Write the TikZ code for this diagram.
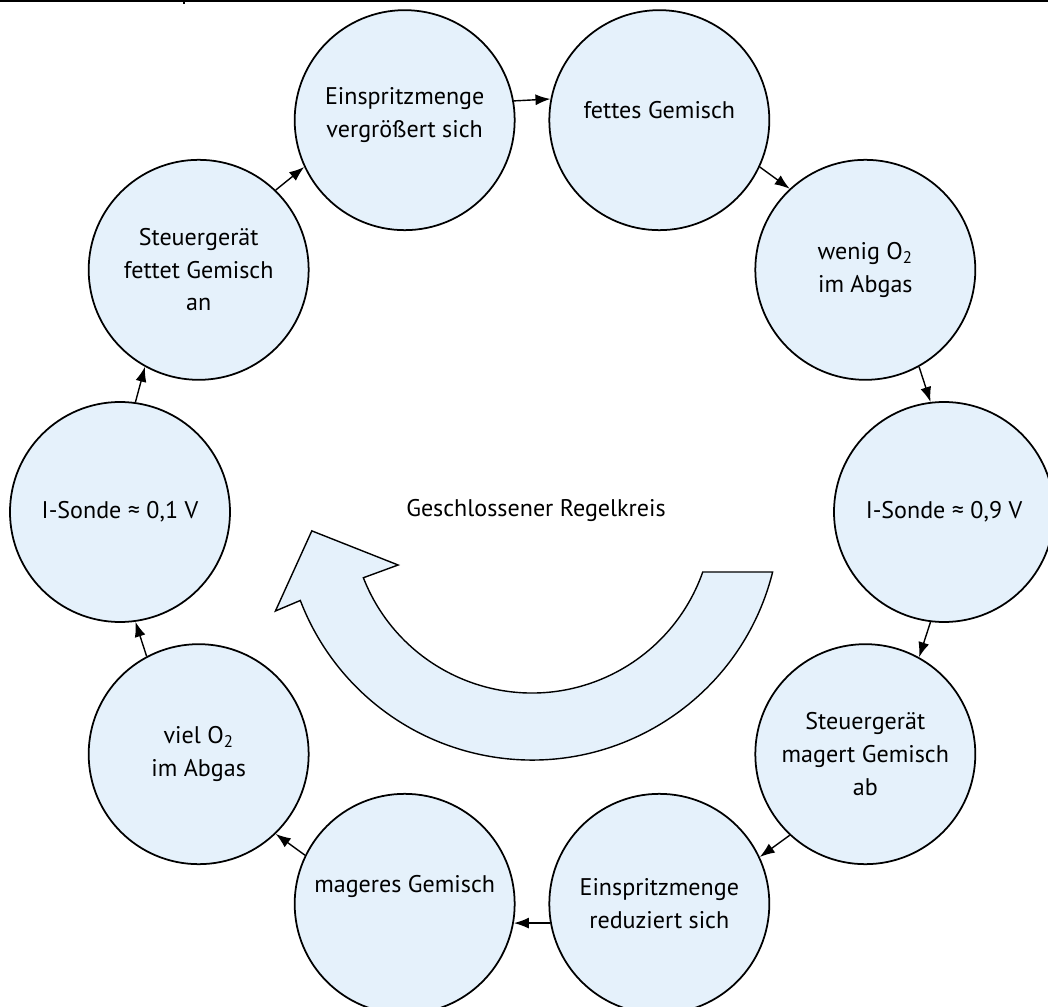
\documentclass[tikz,border=0pt]{standalone}
\usepackage{fontspec}
\setmainfont{PT Sans}
\usetikzlibrary{arrows.meta}
\definecolor{kreisblau}{RGB}{229,241,251}
\tikzset{
	kreis/.style={circle, draw=black, line width=1pt, fill=kreisblau, minimum size=4.4cm, inner sep=0pt, align=center, font=\fontsize{13.7}{18.6}\selectfont},
	pfeil/.style={line width=0.8pt, -{Latex[length=3mm,width=2.2mm]}}
}

\begin{document}
\begin{tikzpicture}
		%%%%% RAHMEN %%%%%
		\useasboundingbox (-10.64, -9.88) rectangle (10.32, 10.24);
		\draw[line width=0.75pt] (-10.64, 10.22) -- (10.32, 10.22);
		\draw[line width=0.6pt] (-6.96, 10.24) -- (-6.96, 10.16);
		
		%%%%% KREISE %%%%%
		\node[kreis] (fettet) at (144:8.24) {Steuergerät\\fettet Gemisch\\an};
		\node[kreis, text depth=0.3cm] (vergroessert) at (108:8.24) {Einspritzmenge\\vergrößert sich};
		\node[kreis, text depth=0.4cm] (fett) at (72:8.24) {fettes Gemisch};
		\node[kreis] (wenigO) at (36:8.24) {wenig O\textsubscript{2}\\im Abgas};
		\node[kreis] (sondeHoch) at (0:8.24) {I-Sonde ≈ 0,9 V};
		\node[kreis] (magert) at (-36:8.24) {Steuergerät\\magert Gemisch\\ab};
		\node[kreis] (reduziert) at (-72:8.24) {Einspritzmenge\\reduziert sich};
		\node[kreis, text depth=0.8cm] (mager) at (-108:8.24) {mageres Gemisch};
		\node[kreis] (vielO) at (-144:8.24) {viel O\textsubscript{2}\\im Abgas};
		\node[kreis] (sondeTief) at (180:8.24) {I-Sonde ≈ 0,1 V};
		
		%%%%% PFEILE %%%%%
		\draw[pfeil] (fettet.46.5) -- (vergroessert.205.5);
		\draw[pfeil] (vergroessert.10.5) -- (fett.169.5);
		\draw[pfeil] (fett.-25.5) -- (wenigO.133.5);
		\draw[pfeil] (wenigO.-61.5) -- (sondeHoch.97.5);
		\draw[pfeil] (sondeHoch.-97.5) -- (magert.61.5);
		\draw[pfeil] (magert.-133.5) -- (reduziert.25.5);
		\draw[pfeil] (reduziert.190.5) -- (mager.-10.5);
		\draw[pfeil] (mager.154.5) -- (vielO.-46.5);
		\draw[pfeil] (vielO.118.5) -- (sondeTief.-82.5);
		\draw[pfeil] (sondeTief.82.5) -- (fettet.241.5);
		
		%%%%% REGELKREIS %%%%%
		\draw[line width=0.8pt, fill=kreisblau] (-14:4.96) arc[start angle=-14, end angle=-159.1, radius=4.96] -- (201.1:5.5) -- (184.9:4.42) -- (201.6:2.88) -- (201.3:3.62) arc[start angle=201.3, end angle=340.65, radius=3.62] -- cycle;
		\node[font=\fontsize{13.7}{18.6}\selectfont] (titel) at (0.08, 0.04) {Geschlossener Regelkreis};
		
	\end{tikzpicture}
\end{document}
